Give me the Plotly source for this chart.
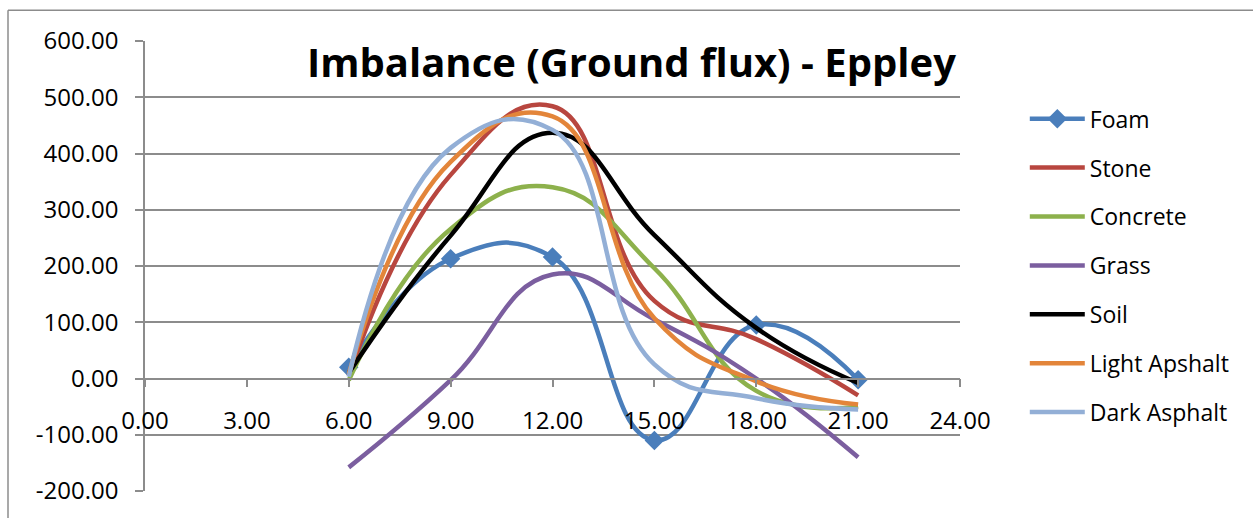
import plotly.graph_objects as go

hours = [6, 9, 12, 15, 18, 21]
foam = [20, 213, 216, -110, 95, -2]
stone = [5, 362, 484, 138, 70, -30]
concrete = [-3, 266, 340, 196, -22, -50]
grass = [-158, -3, 185, 105, 0, -140]
soil = [10, 254, 437, 255, 90, -8]
light_asphalt = [8, 385, 466, 107, -5, -46]
dark_asphalt = [3, 410, 442, 25, -35, -55]

series = [
    ("Foam", foam, "#4A7EBB"),
    ("Stone", stone, "#B8463F"),
    ("Concrete", concrete, "#8DB14C"),
    ("Grass", grass, "#7B5E9F"),
    ("Soil", soil, "#000000"),
    ("Light Apshalt", light_asphalt, "#E3853A"),
    ("Dark Asphalt", dark_asphalt, "#93AFD6"),
]

x_ticks = [0, 3, 6, 9, 12, 15, 18, 21, 24]
y_ticks = [-200, -100, 0, 100, 200, 300, 400, 500, 600]

FONT = "Open Sans"
W, H = 1253, 518
L, R, T, B = 145, 293, 41, 24

fig = go.Figure()
for i, (name, vals, color) in enumerate(series):
    fig.add_trace(go.Scatter(
        x=hours, y=vals, name=name, legendgroup=f"g{i}",
        mode="lines+markers" if name == "Foam" else "lines",
        line=dict(color=color, width=4.5, shape="spline", smoothing=1.3),
        marker=dict(symbol="diamond", size=15, color=color) if name == "Foam" else None,
    ))

grid = "#8C8C8C"
fig.update_layout(
    width=W, height=H,
    margin=dict(l=L, r=R, t=T, b=B, pad=0),
    paper_bgcolor="white", plot_bgcolor="white",
    font=dict(family=FONT, size=22, color="#000000"),
    showlegend=True,
    legend=dict(x=1.0795, y=0.875, xanchor="left", yanchor="top",
                font=dict(size=23), tracegroupgap=16, itemwidth=55,
                bgcolor="rgba(0,0,0,0)"),
    xaxis=dict(range=[0, 24], tickvals=x_ticks,
               ticktext=[f"{v:.2f}" for v in x_ticks],
               showgrid=False, zeroline=False, showline=True,
               linecolor=grid, linewidth=1.5,
               ticks="outside", ticklen=8, tickcolor=grid, tickwidth=1.5,
               ticklabelstandoff=13,
               anchor="free", position=0.25,
               tickfont=dict(size=24, family=FONT)),
    yaxis=dict(range=[-200, 600], tickvals=y_ticks,
               ticktext=[f"{v:.2f}" for v in y_ticks],
               showgrid=True, gridcolor=grid, gridwidth=1.5,
               zeroline=False, showline=True, linecolor=grid, linewidth=1.5,
               ticks="outside", ticklen=8, tickcolor=grid, tickwidth=1.5,
               ticklabelstandoff=12,
               domain=[0, 1], tickfont=dict(size=24, family=FONT)),
)

fig.add_annotation(
    text="<b>Imbalance (Ground flux) - Eppley</b>",
    xref="paper", yref="paper", x=(958 - L) / 815, y=(494 - 62) / 453,
    xanchor="right", yanchor="middle", showarrow=False,
    font=dict(size=40, family=FONT, color="#000000"),
)

# chart border (top and left edges visible)
fig.add_shape(type="line", xref="paper", yref="paper",
              x0=(8 - L) / 815, x1=(1260 - L) / 815,
              y0=(494 - 10) / 453, y1=(494 - 10) / 453,
              line=dict(color="#8C8C8C", width=1.5))
fig.add_shape(type="line", xref="paper", yref="paper",
              x0=(8 - L) / 815, x1=(8 - L) / 815,
              y0=(494 - 10) / 453, y1=(494 - 530) / 453,
              line=dict(color="#8C8C8C", width=1.5))

fig.write_html("out.html")
